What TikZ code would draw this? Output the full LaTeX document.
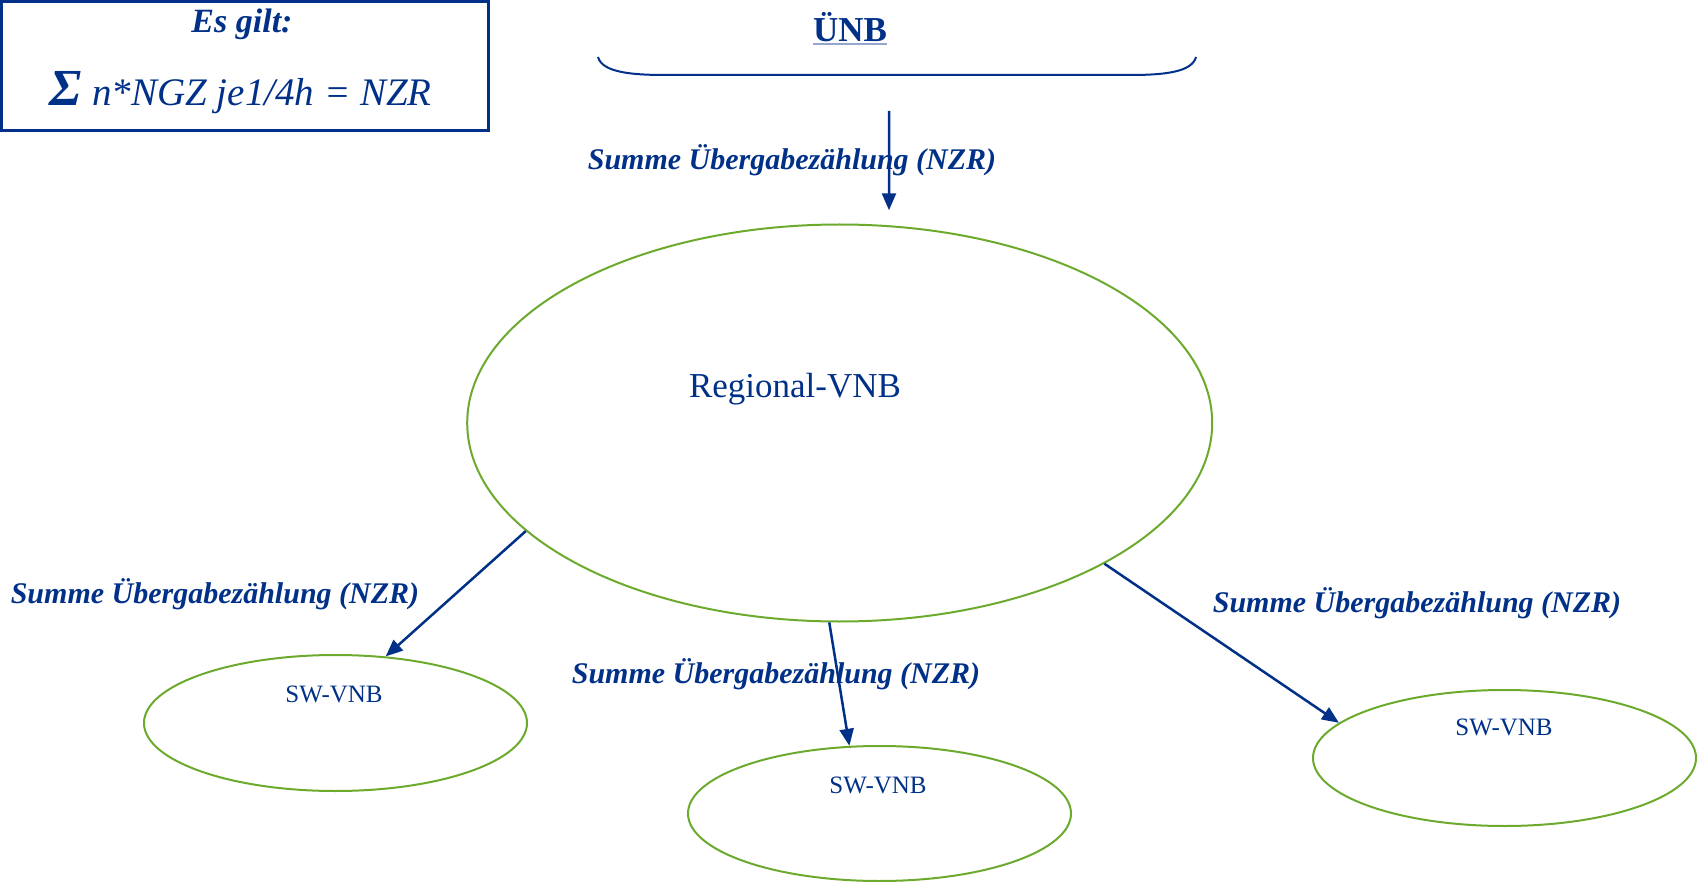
\documentclass[tikz,border=0pt]{standalone}
\usepackage{fontspec}
\setmainfont{Liberation Serif}
\usetikzlibrary{shapes.geometric,arrows.meta}
\definecolor{netblue}{RGB}{0,48,135}
\definecolor{netgreen}{RGB}{108,170,46}
\definecolor{lineblue}{RGB}{150,165,205}
\tikzset{
  ell/.style={ellipse, draw=netgreen, line width=2pt, inner sep=0pt},
  arr/.style={draw=netblue, line width=2.5pt, -{Triangle[length=17pt,width=14pt]}},
  lbl/.style={text=netblue, inner sep=0pt, font=\fontsize{30}{36}\selectfont\bfseries\itshape},
  small/.style={text=netblue, inner sep=0pt, font=\fontsize{25}{30}\selectfont},
}
\begin{document}
\begin{tikzpicture}[x=1pt,y=-1pt]
\useasboundingbox (0,0) rectangle (1700,882);

% formula box
\draw[netblue, line width=3pt] (1.5,1.5) rectangle (488.5,131);
\node[text=netblue, inner sep=0pt, font=\fontsize{34}{40}\selectfont\bfseries\itshape] (esgilt) at (242,24) {Es gilt:};
\node[text=netblue, inner sep=0pt, anchor=base west] (formula) at (49,106)
  {{\fontsize{52}{60}\selectfont\bfseries\itshape Σ}\hspace{11pt}{\fontsize{39}{46}\selectfont\itshape n*NGZ je1/4h = NZR}};

% transmission operator with brace
\node[text=netblue, inner sep=0pt, anchor=base, font=\fontsize{35}{42}\selectfont\bfseries] (unb) at (850,42) {ÜNB};
\draw[lineblue, line width=1.5pt] ([yshift=-2pt]unb.base west) -- ([yshift=-2pt]unb.base east);
\draw[netblue, line width=2pt] (598,57) .. controls (602,72) and (630,75) .. (665,75)
  -- (1130,75) .. controls (1165,75) and (1192,72) .. (1196,57);
\coordinate (unbout) at (889,111);

% operators
\node[ell, minimum width=745pt, minimum height=397pt] (reg) at (839.7,423) {};
\node[text=netblue, inner sep=0pt, font=\fontsize{35}{42}\selectfont] (regtxt) at (795,389) {Regional-VNB};

\node[ell, minimum width=383pt, minimum height=136pt] (sw1) at (335.5,723) {};
\node[ell, minimum width=383pt, minimum height=135pt] (sw2) at (879.5,813.5) {};
\node[ell, minimum width=383pt, minimum height=136pt] (sw3) at (1504.5,758) {};
\node[small] (sw1txt) at (334,694) {SW-VNB};
\node[small] (sw2txt) at (878,785) {SW-VNB};
\node[small] (sw3txt) at (1504,727) {SW-VNB};

% flows
\draw[arr, shorten >=15pt] (unbout) -- (reg.76.5);
\draw[arr] (reg.199) -- (sw1.53);
\draw[arr] (reg.267.2) -- (sw2.114.7);
\draw[arr] (reg.332.5) -- (sw3.168.2);

% flow labels
\node[lbl] (ltop) at (792,160) {Summe Übergabezählung (NZR)};
\node[lbl] (lleft) at (215,594) {Summe Übergabezählung (NZR)};
\node[lbl] (lmid) at (776,674) {Summe Übergabezählung (NZR)};
\node[lbl] (lright) at (1417,603) {Summe Übergabezählung (NZR)};
\end{tikzpicture}
\end{document}
